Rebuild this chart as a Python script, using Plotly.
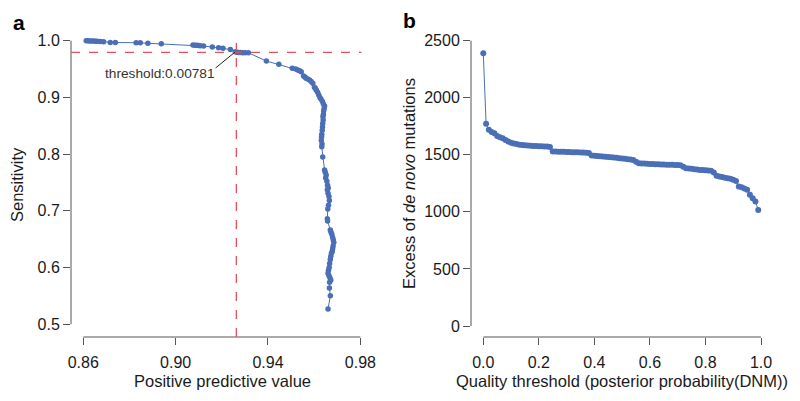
import plotly.graph_objects as go

# ---------------- Panel a data (PPV vs sensitivity) ----------------
ppv = [0.8613, 0.8620, 0.8628, 0.8636, 0.8645, 0.8652, 0.8660, 0.8674, 0.8688, 0.8717,
       0.8739, 0.8829, 0.8847, 0.8880, 0.8938, 0.9075, 0.9084, 0.9092, 0.9100, 0.9107,
       0.9121, 0.9159, 0.9186, 0.9205, 0.9237, 0.9258, 0.9265, 0.9272, 0.9280, 0.9290,
       0.9301, 0.9315,
       0.9393, 0.9447, 0.9505, 0.9520, 0.9529, 0.9537, 0.9544, 0.9554, 0.9560, 0.9565,
       0.9572, 0.9580, 0.9587, 0.9594, 0.9601, 0.9605, 0.9609, 0.9615, 0.9620, 0.9625,
       0.9630, 0.9636, 0.9640, 0.9645,
       0.9643, 0.9641, 0.9640, 0.9638, 0.9639, 0.9637, 0.9636, 0.9635, 0.9633, 0.9632,
       0.9631, 0.9634, 0.9633, 0.9637, 0.9645, 0.9648, 0.9652, 0.9650, 0.9655, 0.9658,
       0.9661, 0.9657, 0.9660, 0.9664, 0.9666, 0.9662, 0.9659, 0.9657, 0.9658, 0.9670,
       0.9673, 0.9677, 0.9680, 0.9683, 0.9685, 0.9682, 0.9680, 0.9678, 0.9675, 0.9672,
       0.9670, 0.9667, 0.9665, 0.9662, 0.9660, 0.9664, 0.9668, 0.9672, 0.9667, 0.9666,
       0.9670, 0.9660]
sensitivity = [1.0000, 0.9998, 0.9997, 0.9995, 0.9994, 0.9992, 0.9990, 0.9988, 0.9983, 0.9970,
               0.9968, 0.9965, 0.9962, 0.9955, 0.9945, 0.9925, 0.9922, 0.9918, 0.9915, 0.9912,
               0.9905, 0.9890, 0.9875, 0.9868, 0.9845, 0.9805, 0.9795, 0.9790, 0.9790, 0.9788,
               0.9788, 0.9787,
               0.9642, 0.9584, 0.9513, 0.9500, 0.9483, 0.9470, 0.9453, 0.9377, 0.9360, 0.9337,
               0.9325, 0.9307, 0.9280, 0.9248, 0.9178, 0.9160, 0.9130, 0.9090, 0.9042, 0.9000,
               0.8966, 0.8930, 0.8884, 0.8848,
               0.8800, 0.8760, 0.8700, 0.8660, 0.8600, 0.8540, 0.8480, 0.8420, 0.8350, 0.8300,
               0.8240, 0.8180, 0.8130, 0.7950, 0.7720, 0.7680, 0.7630, 0.7580, 0.7520, 0.7450,
               0.7400, 0.7370, 0.7310, 0.7250, 0.7180, 0.7100, 0.7030, 0.6860, 0.6820, 0.6660,
               0.6620, 0.6580, 0.6530, 0.6487, 0.6440, 0.6380, 0.6330, 0.6280, 0.6250, 0.6200,
               0.6140, 0.6070, 0.6000, 0.5950, 0.5900, 0.5860, 0.5820, 0.5780, 0.5740, 0.5640,
               0.5500, 0.5270]
chosen_ppv = 0.9263
chosen_sens = 0.9795
threshold_label = "threshold:0.00781"

a_xticks = [0.86, 0.90, 0.94, 0.98]
a_xticklabels = ["0.86", "0.90", "0.94", "0.98"]
a_yticks = [0.5, 0.6, 0.7, 0.8, 0.9, 1.0]
a_yticklabels = ["0.5", "0.6", "0.7", "0.8", "0.9", "1.0"]

# ---------------- Panel b data (quality threshold vs excess DNMs) ----------------
quality_threshold = [i / 100 for i in range(100)]
excess_dnm = [2390, 1772, 1719, 1700, 1690, 1665, 1655, 1646, 1630, 1617,
              1605, 1600, 1595, 1588, 1585, 1583, 1581, 1579, 1578, 1577,
              1576, 1575, 1574, 1572, 1568, 1530, 1529, 1528, 1527, 1526,
              1525, 1524, 1523, 1522, 1522, 1521, 1520, 1519, 1515, 1495,
              1491, 1489, 1487, 1485, 1483, 1480, 1478, 1476, 1474, 1471,
              1468, 1465, 1462, 1459, 1455, 1440, 1427, 1425, 1423, 1421,
              1420, 1419, 1418, 1417, 1416, 1415, 1414, 1413, 1412, 1411,
              1410, 1408, 1395, 1383, 1380, 1377, 1374, 1371, 1368, 1366,
              1364, 1362, 1360, 1345, 1316, 1310, 1305, 1300, 1295, 1290,
              1282, 1270, 1222, 1215, 1205, 1193, 1150, 1120, 1090, 1017]

b_xticks = [0.0, 0.2, 0.4, 0.6, 0.8, 1.0]
b_xticklabels = ["0.0", "0.2", "0.4", "0.6", "0.8", "1.0"]
b_yticks = [0, 500, 1000, 1500, 2000, 2500]
b_yticklabels = ["0", "500", "1000", "1500", "2000", "2500"]

# ---------------- Styling / geometry ----------------
BLUE = "#4a6fb6"
RED = "#e0535a"
AXIS = "#555555"
TEXT = "#1a1a1a"
FONT = "Liberation Sans, Arial, sans-serif"

W, H = 800, 401


def px(xp):
    return xp / W


def py(yp):
    return 1 - yp / H


fig = go.Figure()

fig.add_trace(go.Scatter(
    x=ppv, y=sensitivity, mode="lines+markers",
    line=dict(color=BLUE, width=1),
    marker=dict(color=BLUE, size=5.5),
    xaxis="x", yaxis="y", showlegend=False, hoverinfo="x+y"))

fig.add_trace(go.Scatter(
    x=quality_threshold, y=excess_dnm, mode="lines+markers",
    line=dict(color=BLUE, width=1),
    marker=dict(color=BLUE, size=6),
    xaxis="x2", yaxis="y2", showlegend=False, hoverinfo="x+y"))

ydom = [py(337), py(30)]
tickfont = dict(family=FONT, size=16, color=TEXT)
common_axis = dict(showgrid=False, zeroline=False, showline=False, automargin=False,
                   ticks="outside", ticklen=7, tickwidth=1, tickcolor=AXIS,
                   tickfont=tickfont)
xextra = dict(ticklabelstandoff=4)

fig.update_layout(
    width=W, height=H,
    margin=dict(l=0, r=0, t=0, b=0, pad=0),
    paper_bgcolor="white", plot_bgcolor="white",
    font=dict(family=FONT, color=TEXT),
    xaxis=dict(domain=[px(71), px(361.5)], range=[0.8547, 0.9805],
               tickvals=a_xticks, ticktext=a_xticklabels, anchor="y", **common_axis, **xextra),
    yaxis=dict(domain=ydom, range=[0.4774, 1.0189],
               tickvals=a_yticks, ticktext=a_yticklabels, anchor="x", **common_axis),
    xaxis2=dict(domain=[px(471), px(773)], range=[-0.0443, 1.0432],
                tickvals=b_xticks, ticktext=b_xticklabels, anchor="y2", **common_axis, **xextra),
    yaxis2=dict(domain=ydom, range=[-96.4, 2593.8],
                tickvals=b_yticks, ticktext=b_yticklabels, anchor="x2", **common_axis),
)

shapes = []
# R-style axis lines spanning first to last tick
shapes.append(dict(type="line", xref="x", yref="y domain", x0=a_xticks[0], x1=a_xticks[-1],
                   y0=0, y1=0, line=dict(color=AXIS, width=1)))
shapes.append(dict(type="line", xref="x domain", yref="y", x0=0, x1=0,
                   y0=a_yticks[0], y1=a_yticks[-1], line=dict(color=AXIS, width=1)))
shapes.append(dict(type="line", xref="x2", yref="y2 domain", x0=b_xticks[0], x1=b_xticks[-1],
                   y0=0, y1=0, line=dict(color=AXIS, width=1)))
shapes.append(dict(type="line", xref="x2 domain", yref="y2", x0=0, x1=0,
                   y0=b_yticks[0], y1=b_yticks[-1], line=dict(color=AXIS, width=1)))
# Chosen threshold cross-hair
shapes.append(dict(type="line", xref="x domain", yref="y", x0=0, x1=1,
                   y0=chosen_sens, y1=chosen_sens, line=dict(color=RED, width=1.3, dash="dash")))
shapes.append(dict(type="line", xref="x", yref="y", x0=chosen_ppv, x1=chosen_ppv,
                   y0=0.4774, y1=0.996, line=dict(color=RED, width=1.3, dash="dash")))
# Leader line of the threshold label
shapes.append(dict(type="line", xref="x", yref="y", x0=0.9173, y0=0.9519,
                   x1=chosen_ppv - 0.0007, y1=chosen_sens, line=dict(color="#222222", width=1)))
fig.update_layout(shapes=shapes)


def label(text, xp, yp, size=16.5, angle=0, color=TEXT):
    return dict(text=text, xref="paper", yref="paper", x=px(xp), y=py(yp),
                xanchor="center", yanchor="middle", showarrow=False, textangle=angle,
                font=dict(family=FONT, size=size, color=color))


annotations = [
    dict(text=threshold_label, xref="x", yref="y", x=0.8931, y=0.943, showarrow=False,
         xanchor="center", yanchor="middle",
         font=dict(family=FONT, size=13.7, color="#333333")),
    label("<b>a</b>", 19, 22, size=21, color="#000000"),
    label("<b>b</b>", 410, 21, size=21, color="#000000"),
    label("Positive predictive value", 222, 381),
    label("Sensitivity", 17, 185, angle=-90),
    label("Quality threshold (posterior probability(DNM))", 622, 381),
    label("Excess of <i>de novo</i> mutations", 409, 184, angle=-90),
]
fig.update_layout(annotations=annotations)

# Remove the browser's default 8px body margin so the figure fills the window exactly.
fig.write_html("out.html",
               config={"displayModeBar": False},
               post_script="document.body.style.margin='0';document.body.style.overflow='hidden';")
